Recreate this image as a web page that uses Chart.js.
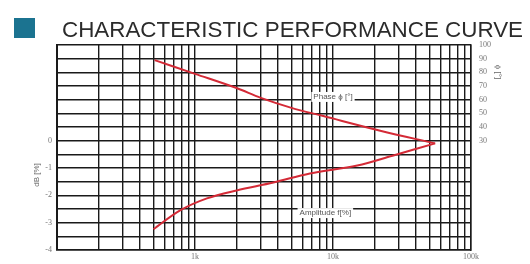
<!DOCTYPE html>
<html><head><meta charset="utf-8">
<script src="https://cdn.jsdelivr.net/npm/chart.js@4"></script>
<style>html,body{margin:0;padding:0;background:#fff;}#wrap{width:530px;height:264px;}</style>
</head><body><div id="wrap"><canvas id="c" width="530" height="264"></canvas></div>
<script>
// Data
const phaseFreq   = [0.51, 1.0, 2.0, 3.0, 5.0, 8.5, 22, 55];
const phaseValues = [88.9, 78.9, 68.5, 61.3, 54, 48, 37.3, 28];
const ampFreq     = [0.5, 0.78, 1.22, 2.0, 3.7, 6.8, 15, 27, 55];
const ampValues   = [-3.24, -2.55, -2.11, -1.82, -1.53, -1.2, -0.91, -0.55, -0.1];
const xTickLabels = {1: '1k', 10: '10k', 100: '100k'};
const leftTickLabels = [0, -1, -2, -3, -4];
const rightTickLabels = [30, 40, 50, 60, 70, 80, 90, 100];
const titleText = 'CHARACTERISTIC PERFORMANCE CURVE';
const phaseLabel = 'Phase \u03d5 [\u00b0]';
const ampLabel = 'Amplitude f[%]';
const leftTitle = 'dB [%]';
const rightTitle = '\u03d5 [\u00b0]';

const xTicks = [];
[0.1, 1, 10].forEach(d => { for (let m = 1; m <= 9; m++) xTicks.push(+(m * d).toPrecision(3)); });
xTicks.push(100);

const red = '#d42a36';
const decor = {
  id: 'decor',
  afterDraw(chart) {
    const ctx = chart.ctx;
    const x = chart.scales.x, yl = chart.scales.y, yr = chart.scales.y2;
    ctx.save();
    // title
    ctx.fillStyle = '#1b7390';
    ctx.fillRect(14, 18, 21, 20);
    ctx.font = '22px "Liberation Sans", Arial, sans-serif';
    ctx.fillStyle = '#2b2b2b';
    ctx.textBaseline = 'alphabetic';
    const w = ctx.measureText(titleText).width;
    ctx.save();
    ctx.translate(62, 37);
    ctx.scale(461 / w, 1);
    ctx.fillText(titleText, 0, 0);
    ctx.restore();
    // in-chart labels
    ctx.font = '8px "Liberation Sans", Arial, sans-serif';
    ctx.textAlign = 'center';
    ctx.textBaseline = 'middle';
    const lab = (t, px, py) => {
      const tw = ctx.measureText(t).width;
      ctx.fillStyle = '#fff';
      ctx.fillRect(px - tw / 2 - 2, py - 5, tw + 4, 10);
      ctx.fillStyle = '#555';
      ctx.fillText(t, px, py);
    };
    lab(phaseLabel, x.getPixelForValue(10), yr.getPixelForValue(62));
    lab(ampLabel, x.getPixelForValue(8.8), yl.getPixelForValue(-2.65));
    // axis titles
    ctx.fillStyle = '#666';
    ctx.save();
    ctx.translate(37, 175);
    ctx.rotate(-Math.PI / 2);
    ctx.fillText(leftTitle, 0, 0);
    ctx.restore();
    ctx.save();
    ctx.translate(498, 72);
    ctx.rotate(Math.PI / 2);
    ctx.fillText(rightTitle, 0, 0);
    ctx.restore();
    ctx.restore();
  }
};

const tickFont = {family: '"Liberation Serif", serif', size: 8};
new Chart(document.getElementById('c'), {
  type: 'line',
  data: {
    datasets: [
      {label: 'Phase', data: phaseFreq.map((f, i) => ({x: f, y: phaseValues[i]})), yAxisID: 'y2',
       borderColor: red, borderWidth: 2, pointRadius: 0, tension: 0.35, fill: false},
      {label: 'Amplitude', data: ampFreq.map((f, i) => ({x: f, y: ampValues[i]})), yAxisID: 'y',
       borderColor: red, borderWidth: 2, pointRadius: 0, tension: 0.35, fill: false}
    ]
  },
  options: {
    responsive: false, animation: false,
    layout: {padding: {top: 45, left: 0, right: 0, bottom: 0}},
    plugins: {legend: {display: false}, title: {display: false}, tooltip: {enabled: false}},
    scales: {
      x: {
        type: 'logarithmic', min: 0.1, max: 100,
        afterBuildTicks: s => { s.ticks = xTicks.map(v => ({value: v})); },
        afterFit: s => { s.height = 14; },
        ticks: {autoSkip: false, maxRotation: 0, minRotation: 0, padding: 2, font: tickFont, color: '#777',
                callback: v => xTickLabels[v] || ''},
        grid: {color: '#1a1a1a', lineWidth: 1.4, drawTicks: false},
        border: {color: '#1a1a1a', width: 1.5}
      },
      y: {
        position: 'left', min: -4, max: 3.5,
        afterBuildTicks: s => { const t = []; for (let k = 0; k <= 15; k++) t.push({value: -4 + k * 0.5}); s.ticks = t; },
        afterFit: s => { s.width = 57; },
        ticks: {autoSkip: false, padding: 5, font: tickFont, color: '#777',
                callback: v => leftTickLabels.includes(v) ? String(v) : ''},
        grid: {color: '#1a1a1a', lineWidth: 1.6, drawTicks: false},
        border: {color: '#1a1a1a', width: 2}
      },
      y2: {
        position: 'right', min: -50, max: 100,
        afterBuildTicks: s => { const t = []; for (let k = 0; k <= 15; k++) t.push({value: -50 + k * 10}); s.ticks = t; },
        afterFit: s => { s.width = 59; },
        ticks: {autoSkip: false, padding: 8, font: tickFont, color: '#777',
                callback: v => rightTickLabels.includes(v) ? String(v) : ''},
        grid: {display: false, drawTicks: false},
        border: {color: '#1a1a1a', width: 1.5}
      }
    }
  },
  plugins: [decor]
});
</script></body></html>
